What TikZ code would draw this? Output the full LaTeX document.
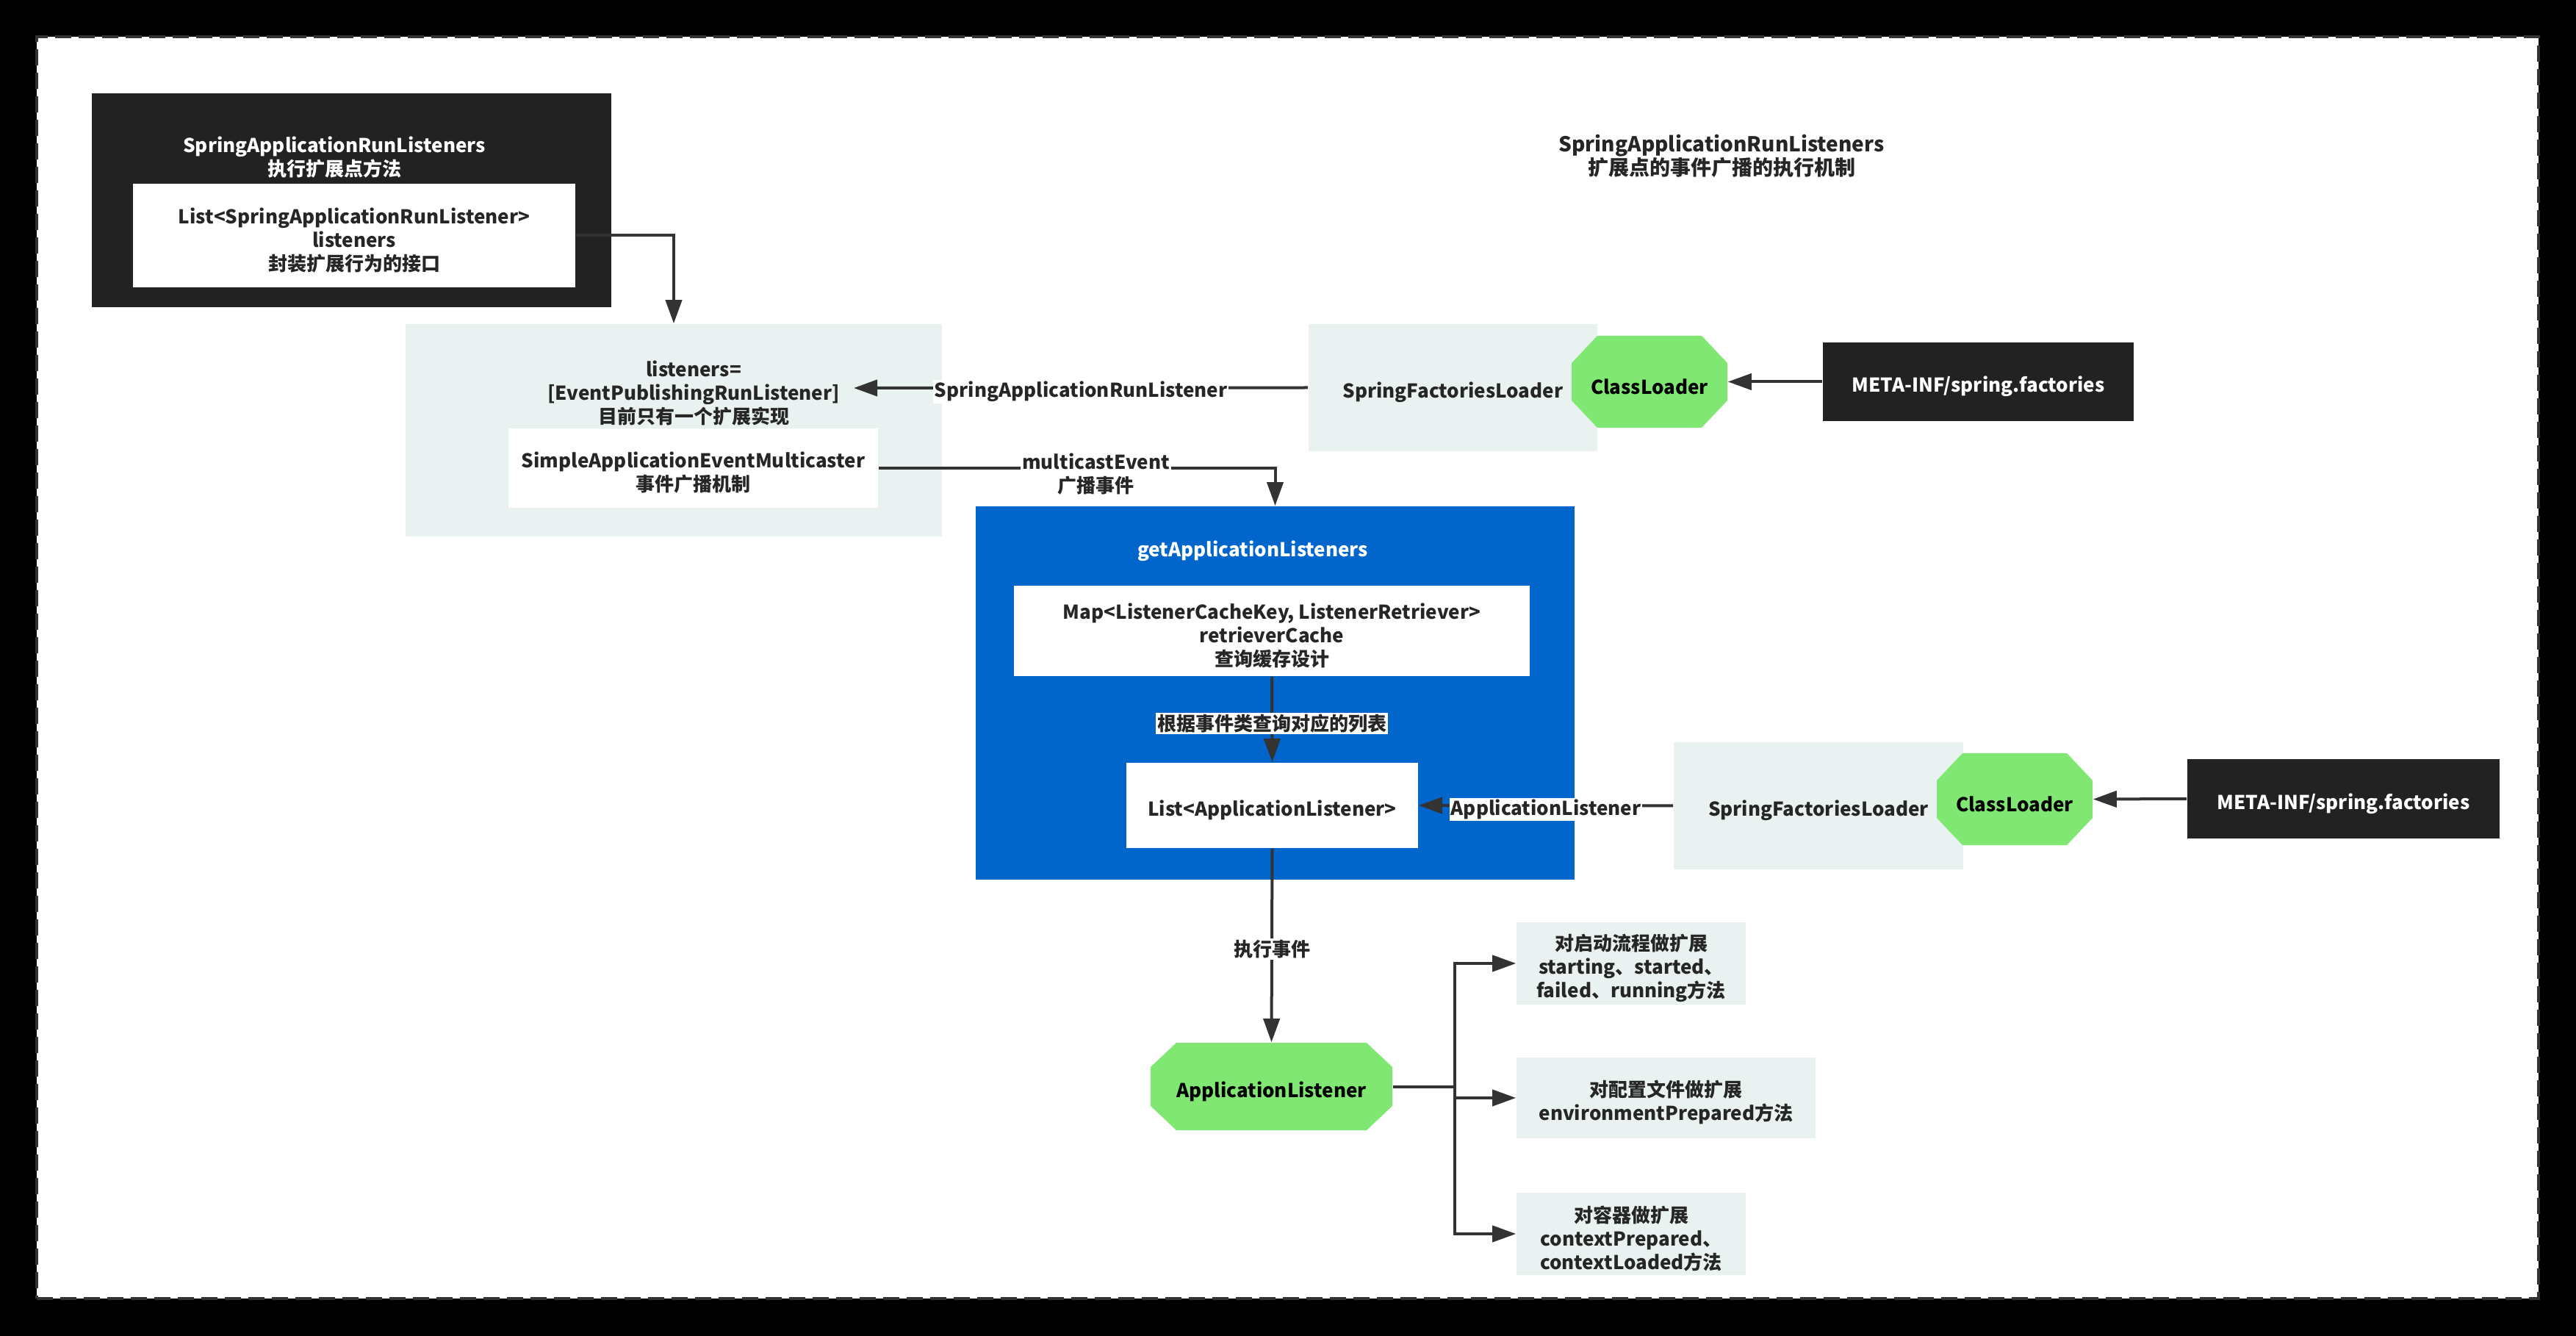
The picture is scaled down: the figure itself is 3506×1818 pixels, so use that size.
\documentclass[tikz,border=0pt]{standalone}
\usepackage{fontspec}
\setmainfont{Noto Sans CJK SC}
\usetikzlibrary{arrows.meta}
\definecolor{dk}{HTML}{222222}
\definecolor{lg}{HTML}{E9F1F1}
\definecolor{grn}{HTML}{80E872}
\definecolor{blu}{HTML}{0066CC}
\definecolor{ln}{HTML}{333333}
\definecolor{tx}{HTML}{262626}
\newcommand{\upstrut}{\rule{0pt}{8.7pt}}
\begin{document}
\begin{tikzpicture}[x=0.25pt,y=-0.25pt,
  every node/.style={align=center, inner sep=0pt, text=tx, font=\fontsize{6.5}{8}\selectfont\bfseries},
  sz/.style 2 args={minimum width=#1*0.25pt, minimum height=#2*0.25pt},
  darkbox/.style={fill=dk, text=white},
  whitebox/.style={fill=white},
  graybox/.style={fill=lg},
  bluebox/.style={fill=blu},
  octo/.style 2 args={text=black, path picture={\fill[grn] ([xshift=#1*0.25pt]path picture bounding box.north west) -- ([xshift=-#1*0.25pt]path picture bounding box.north east) -- ([yshift=-#2*0.25pt]path picture bounding box.north east) -- ([yshift=#2*0.25pt]path picture bounding box.south east) -- ([xshift=-#1*0.25pt]path picture bounding box.south east) -- ([xshift=#1*0.25pt]path picture bounding box.south west) -- ([yshift=#2*0.25pt]path picture bounding box.south west) -- ([yshift=-#2*0.25pt]path picture bounding box.north west) -- cycle;}},
  conn/.style={draw=ln, line width=1pt},
  arr/.style={conn, -{Triangle[length=8pt,width=5.5pt]}},
  lbl/.style={fill=white, inner sep=0.5pt, yshift=-1.3pt},
]
\useasboundingbox (0,0) rectangle (3506,1818);
\fill[black] (0,0) rectangle (3506,1818);
\node[sz={3405}{1717}, fill=white, draw=ln, line width=0.85pt, dash pattern=on 5.5pt off 2.5pt] (frame) at (1752.5,908.5) {};

\node (title) at (2343,212) {\fontsize{7}{8.2}\selectfont SpringApplicationRunListeners\\\fontsize{7}{8.2}\selectfont 扩展点的事件广播的执行机制};

\node[darkbox, sz={707}{291}] (runL) at (478.5,272.5) {};
\node[text=white] (runLt) at (455,214) {SpringApplicationRunListeners\\执行扩展点方法};
\node[whitebox, sz={602}{141}] (lst) at (482,320.5) {\upstrut List<SpringApplicationRunListener>\\listeners\\封装扩展行为的接口};

\node[graybox, sz={730}{289}] (g1) at (917,585.5) {};
\node (g1t) at (944,535) {listeners=\\{[EventPublishingRunListener]}\\目前只有一个扩展实现};
\node[whitebox, sz={503}{108}] (sim) at (943.5,637) {\upstrut SimpleApplicationEventMulticaster\\事件广播机制};

\node[graybox, sz={393}{173}] (sfl1) at (1977.5,527.5) {\upstrut SpringFactoriesLoader};
\node[octo={35}{37}, sz={212}{125}] (cl1) at (2245,519.5) {\upstrut ClassLoader};
\node[darkbox, sz={423}{107}] (meta1) at (2692.5,519.5) {\upstrut META-INF/spring.factories};

\node[bluebox, sz={815}{508}] (blue) at (1735.5,943) {};
\node[text=white] (bluet) at (1705,750) {getApplicationListeners};
\node[whitebox, sz={702}{123}] (map) at (1731,858.5) {\upstrut Map<ListenerCacheKey, ListenerRetriever>\\retrieverCache\\查询缓存设计};
\node[whitebox, sz={397}{116}] (lstA) at (1731.5,1096) {\upstrut List<ApplicationListener>};

\node[graybox, sz={394}{173}] (sfl2) at (2475,1096.5) {\upstrut SpringFactoriesLoader};
\node[octo={35}{37}, sz={212}{125}] (cl2) at (2742,1087.5) {\upstrut ClassLoader};
\node[darkbox, sz={425}{108}] (meta2) at (3189.5,1087) {\upstrut META-INF/spring.factories};

\node[octo={35}{33}, sz={329}{119}] (al) at (1730.5,1478.5) {\upstrut ApplicationListener};
\node[graybox, sz={312}{112}] (b1) at (2220,1311) {\upstrut 对启动流程做扩展\\starting、started、\\failed、running方法};
\node[graybox, sz={407}{110}] (b2) at (2267.5,1494) {\upstrut 对配置文件做扩展\\environmentPrepared方法};
\node[graybox, sz={312}{112}] (b3) at (2220,1679) {\upstrut 对容器做扩展\\contextPrepared、\\contextLoaded方法};

\coordinate (g1in) at (1162,528);
\coordinate (fork) at (1980,1478.5);

\draw[arr] (lst.east) -| (g1.north);
\draw[arr] (sfl1.west) -- node[lbl] {SpringApplicationRunListener} (g1in);
\draw[arr] (sim.east) -| node[lbl, pos=0.274, yshift=-0.7pt] {multicastEvent\\广播事件} (blue.north);
\draw[arr] (meta1.west) -- (cl1.east);
\draw[arr] (map.south) -- node[lbl] {根据事件类查询对应的列表} (lstA.north);
\draw[arr] (sfl2.west) -- node[lbl] {ApplicationListener} (lstA.east);
\draw[arr] (meta2.west) -- (cl2.east);
\draw[arr] (lstA.south) -- node[lbl] {执行事件} (al.north);
\draw[conn] (al.east) -- (fork);
\draw[arr] (fork) |- (b1.west);
\draw[arr] (fork) |- (b2.west);
\draw[arr] (fork) |- (b3.west);
\end{tikzpicture}
\end{document}
